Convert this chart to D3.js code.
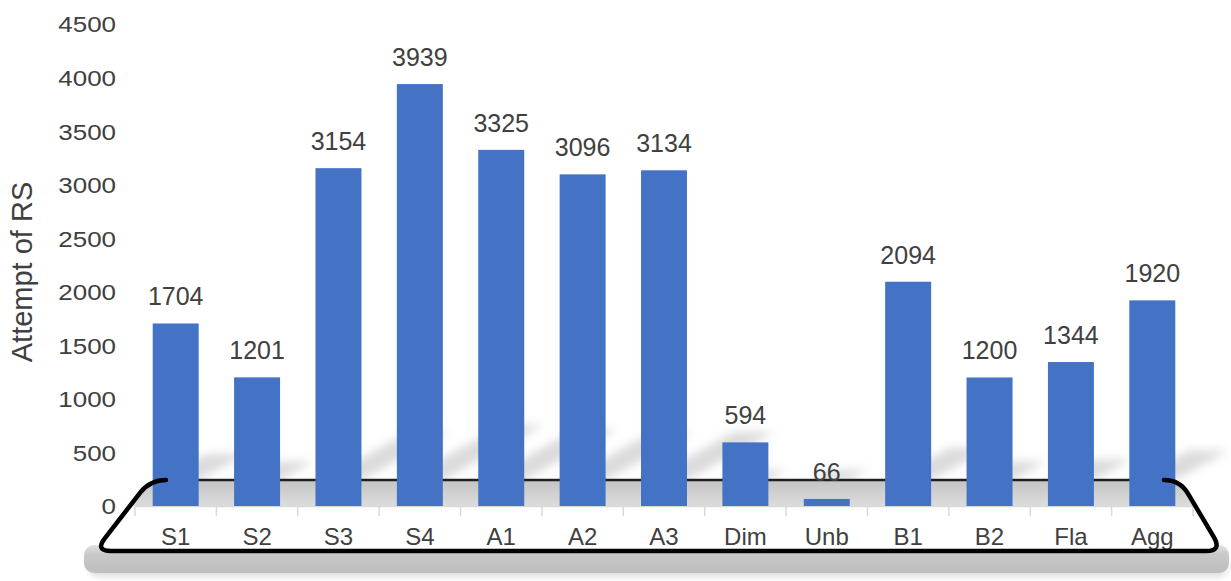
<!DOCTYPE html>
<html>
<head>
<meta charset="utf-8">
<script src="https://cdn.jsdelivr.net/npm/d3@7"></script>
<style>
  html, body { margin: 0; padding: 0; background: #ffffff; }
  svg { display: block; }
  text { font-family: "Liberation Sans", Arial, sans-serif; fill: #404040; }
</style>
</head>
<body>
<svg id="chart" width="1231" height="581"></svg>
<script>
// Attempts of RS per class
const categories = ["S1", "S2", "S3", "S4", "A1", "A2", "A3", "Dim", "Unb", "B1", "B2", "Fla", "Agg"];
const attempts = [1704, 1201, 3154, 3939, 3325, 3096, 3134, 594, 66, 2094, 1200, 1344, 1920];
const yTicks = [0, 500, 1000, 1500, 2000, 2500, 3000, 3500, 4000, 4500];
const yTitle = "Attempt of RS";

const svg = d3.select("#chart");
const defs = svg.append("defs");

const x = d3.scaleBand()
  .domain(categories)
  .range([135, 1193])
  .paddingInner(0.435)
  .paddingOuter(0.2175);

const y = d3.scaleLinear().domain([0, 4500]).range([506, 24]);

const barColor = "#4472C4";
const floorY = 480;      // back edge of the stage
const baseY = y(0);

// --- filters & gradients ---
const blur = defs.append("filter").attr("id", "soft").attr("x", "-50%").attr("y", "-50%").attr("width", "200%").attr("height", "200%");
blur.append("feGaussianBlur").attr("stdDeviation", 5);

const blur2 = defs.append("filter").attr("id", "soft2").attr("x", "-20%").attr("y", "-50%").attr("width", "140%").attr("height", "200%");
blur2.append("feGaussianBlur").attr("stdDeviation", 3);

const slabGrad = defs.append("linearGradient").attr("id", "slab").attr("x1", 0).attr("y1", 0).attr("x2", 0).attr("y2", 1);
slabGrad.append("stop").attr("offset", "0%").attr("stop-color", "#e2e2e2");
slabGrad.append("stop").attr("offset", "35%").attr("stop-color", "#c8c8c8");
slabGrad.append("stop").attr("offset", "100%").attr("stop-color", "#bebebe");

const stripGrad = defs.append("linearGradient").attr("id", "strip").attr("x1", 0).attr("y1", 0).attr("x2", 0).attr("y2", 1);
stripGrad.append("stop").attr("offset", "0%").attr("stop-color", "#c4c4c4");
stripGrad.append("stop").attr("offset", "100%").attr("stop-color", "#dcdcdc");

// --- stage outline (rounded trapezoid) ---
const TL = [150, floorY], TR = [1180, floorY], BR = [1222, 551], BL = [95, 551];
function roundedPoly(pts, r) {
  const n = pts.length;
  let d = "";
  for (let i = 0; i < n; i++) {
    const p0 = pts[(i - 1 + n) % n], p1 = pts[i], p2 = pts[(i + 1) % n];
    const v1 = [p0[0] - p1[0], p0[1] - p1[1]], v2 = [p2[0] - p1[0], p2[1] - p1[1]];
    const l1 = Math.hypot(...v1), l2 = Math.hypot(...v2);
    const a = [p1[0] + v1[0] / l1 * r, p1[1] + v1[1] / l1 * r];
    const b = [p1[0] + v2[0] / l2 * r, p1[1] + v2[1] / l2 * r];
    d += (i === 0 ? "M" : "L") + a[0] + "," + a[1] + "Q" + p1[0] + "," + p1[1] + " " + b[0] + "," + b[1];
  }
  return d + "Z";
}
const stagePath = roundedPoly([TL, TR, BR, BL], 16);

// shadows cast by the bars onto the back wall
const shadowLen = d => Math.min(100, Math.max(18, (y(0) - y(d)) * 0.26));
svg.append("g").attr("filter", "url(#soft)").selectAll("path")
  .data(attempts)
  .join("path")
  .attr("fill", "#9a9a9a")
  .attr("opacity", 0.36)
  .attr("d", (d, i) => {
    const xl = x(categories[i]) + 6, xr = x(categories[i]) + x.bandwidth();
    const L = shadowLen(d);
    const dx = L, dy = L * 0.55;
    return `M${xl},${floorY}L${xr},${floorY}L${xr + dx},${floorY - dy}L${xl + dx},${floorY - dy}Z`;
  });

// slab under the stage
svg.append("rect")
  .attr("x", 88).attr("y", 555).attr("width", 1140).attr("height", 22).attr("rx", 10)
  .attr("fill", "#000").attr("opacity", 0.12).attr("filter", "url(#soft2)");
svg.append("rect")
  .attr("x", 84).attr("y", 545).attr("width", 1145).attr("height", 28).attr("rx", 10)
  .attr("fill", "url(#slab)");

// stage face
svg.append("path").attr("d", stagePath).attr("fill", "#ffffff");

defs.append("clipPath").attr("id", "stageClip").append("path").attr("d", stagePath);

// shaded floor strip between back edge and baseline
svg.append("rect")
  .attr("clip-path", "url(#stageClip)")
  .attr("x", 80).attr("y", floorY).attr("width", 1150).attr("height", baseY - floorY)
  .attr("fill", "url(#strip)");

// back edge line (behind bars)
svg.append("line")
  .attr("x1", TL[0] + 10).attr("x2", TR[0] - 10).attr("y1", floorY).attr("y2", floorY)
  .attr("stroke", "#202020").attr("stroke-width", 2.5);

// x axis baseline and boundary ticks
const xAxisG = svg.append("g");
xAxisG.append("line")
  .attr("x1", x.range()[0]).attr("x2", x.range()[1])
  .attr("y1", baseY + 0.5).attr("y2", baseY + 0.5)
  .attr("stroke", "#d9d9d9").attr("stroke-width", 1.5);
const boundaries = categories.map(c => x(c) - x.step() * x.paddingInner() / 2)
  .concat([x(categories[categories.length - 1]) + x.bandwidth() + x.step() * x.paddingInner() / 2]);
xAxisG.selectAll("line.tick").data(boundaries).join("line")
  .attr("class", "tick")
  .attr("x1", d => d).attr("x2", d => d)
  .attr("y1", baseY).attr("y2", baseY + 10)
  .attr("stroke", "#d9d9d9").attr("stroke-width", 1.5);

// category labels via d3 axis
const xAxis = d3.axisBottom(x).tickSize(0).tickPadding(0);
const xg = svg.append("g").attr("transform", `translate(0,${baseY})`).call(xAxis);
xg.select(".domain").remove();
xg.selectAll("text")
  .attr("dy", null)
  .attr("y", 39)
  .style("font-size", "24px")
  .style("font-family", "'Liberation Sans', Arial, sans-serif")
  .attr("fill", "#404040");

// y tick labels (slightly widened)
const yAxis = d3.axisLeft(y).tickValues(yTicks).tickFormat(d3.format("d")).tickSize(0).tickPadding(0);
const yg = svg.append("g").attr("transform", "translate(116,0)").call(yAxis);
yg.select(".domain").remove();
yg.selectAll(".tick text")
  .attr("x", 0)
  .attr("dy", "0.36em")
  .attr("transform", "scale(1.18,1)")
  .style("font-size", "22px")
  .style("font-family", "'Liberation Sans', Arial, sans-serif")
  .attr("fill", "#404040");

// axis title
svg.append("text")
  .attr("transform", "translate(32,272) rotate(-90)")
  .attr("text-anchor", "middle")
  .style("font-size", "29px")
  .text(yTitle);

// bars
svg.append("g").selectAll("rect")
  .data(attempts)
  .join("rect")
  .attr("x", (d, i) => x(categories[i]))
  .attr("y", d => y(d))
  .attr("width", x.bandwidth())
  .attr("height", d => y(0) - y(d))
  .attr("fill", barColor);

// value labels
svg.append("g").selectAll("text")
  .data(attempts)
  .join("text")
  .attr("x", (d, i) => x(categories[i]) + x.bandwidth() / 2)
  .attr("y", d => y(d) - 18)
  .attr("text-anchor", "middle")
  .style("font-size", "25px")
  .text(d => d);

// front/side rim of the stage
function rimPath() {
  const r = 16;
  const seg = (p, q, t) => [p[0] + (q[0] - p[0]) * t, p[1] + (q[1] - p[1]) * t];
  const lenL = Math.hypot(BL[0] - TL[0], BL[1] - TL[1]);
  const lenR = Math.hypot(BR[0] - TR[0], BR[1] - TR[1]);
  const lenB = BR[0] - BL[0];
  const topL = [TL[0] + r, TL[1]];
  const a1 = seg(TL, BL, r / lenL), a2 = seg(TL, BL, 1 - r / lenL);
  const b1 = seg(BL, BR, r / lenB), b2 = seg(BL, BR, 1 - r / lenB);
  const c1 = seg(BR, TR, r / lenR), c2 = seg(BR, TR, 1 - r / lenR);
  const topR = [TR[0] - r, TR[1]];
  return `M${topL}Q${TL} ${a1}L${a2}Q${BL} ${b1}L${b2}Q${BR} ${c1}L${c2}Q${TR} ${topR}`;
}
svg.append("path")
  .attr("d", rimPath())
  .attr("fill", "none")
  .attr("stroke", "#000")
  .attr("stroke-width", 4.5)
  .attr("stroke-linejoin", "round")
  .attr("stroke-linecap", "round");
</script>
</body>
</html>
